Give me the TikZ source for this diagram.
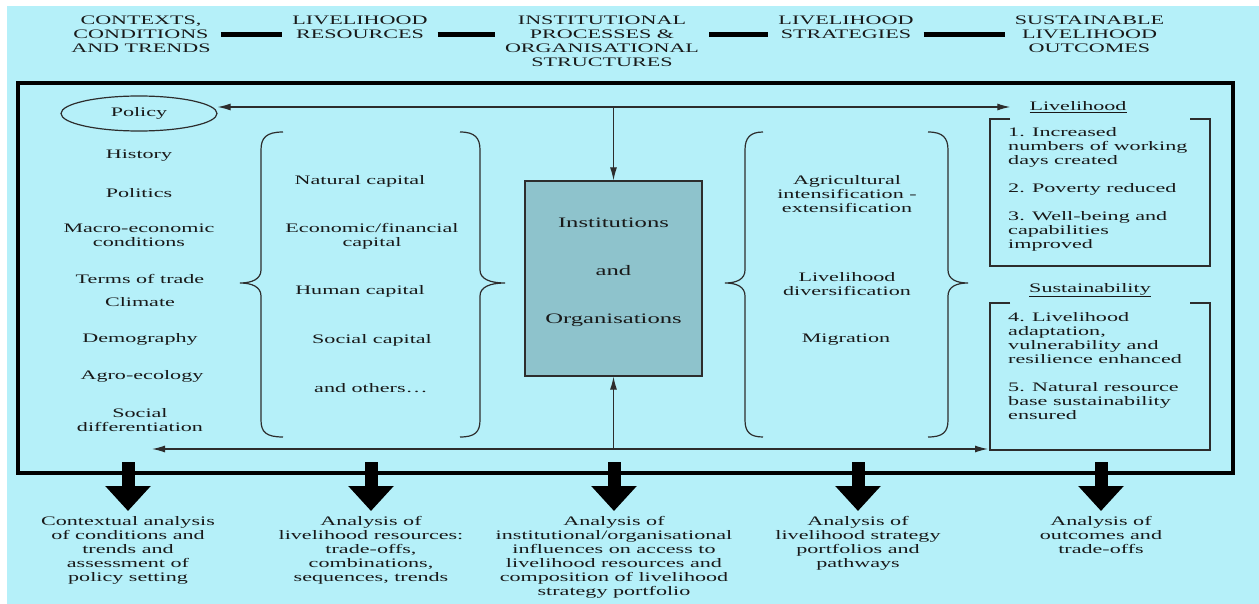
\documentclass[tikz,border=0pt]{standalone}
\usepackage{fontspec}
\setmainfont{Liberation Serif}[FakeStretch=1.7]
\usetikzlibrary{arrows.meta,shapes.geometric}

\definecolor{bgcyan}{RGB}{181,240,249}
\definecolor{boxteal}{RGB}{142,195,204}
\definecolor{inkgray}{RGB}{45,45,45}

\tikzset{
  txt/.style={font=\fontsize{13}{14}\selectfont, inner sep=0pt, align=center, text=black!90},
  thin/.style={line width=1.2pt, draw=inkgray},
  hbar/.style={line width=4.5pt, shorten >=10pt, shorten <=10pt},
  bigarrow/.style={line width=13pt, -{Triangle[length=25pt,width=44pt]}},
  instbox/.style={rectangle, draw=inkgray, line width=1.2pt, fill=boxteal, minimum width=177pt, minimum height=195pt},
}

\begin{document}
\begin{tikzpicture}[x=1pt,y=-1pt,>={Latex[length=13pt,width=7pt]}]
        \useasboundingbox (0,0) rectangle (1259,604);
        \fill[bgcyan] (7,6) rectangle (1259,604);

        \node[txt] (h1) at (141,34.5) {CONTEXTS,\\CONDITIONS\\AND TRENDS};
        \node[txt] (h2) at (360,27.5) {LIVELIHOOD\\RESOURCES};
        \node[txt] (h3) at (602,41.5) {INSTITUTIONAL\\PROCESSES \&\\ORGANISATIONAL\\STRUCTURES};
        \node[txt] (h4) at (846,27.5) {LIVELIHOOD\\STRATEGIES};
        \node[txt] (h5) at (1089.5,34.5) {SUSTAINABLE\\LIVELIHOOD\\OUTCOMES};

        \draw[hbar] (h1.east) -- (h1.east -| h2.west);
        \draw[hbar] (h1.east -| h2.east) -- (h1.east -| h3.west);
        \draw[hbar] (h1.east -| h3.east) -- (h1.east -| h4.west);
        \draw[hbar] (h5.west -| h4.east) -- (h5.west);

        \draw[line width=4pt] (18,83) rectangle (1233,473);

        \node[txt, ellipse, thin, minimum width=156pt, minimum height=35pt] (policy) at (139,113.5) {Policy};
        \node[txt] (ctx1) at (139,156) {History};
        \node[txt] (ctx2) at (139,193) {Politics};
        \node[txt] (ctx3) at (139,235.5) {Macro-economic\\conditions};
        \node[txt] (ctx4) at (140,279) {Terms of trade};
        \node[txt] (ctx5) at (140,302) {Climate};
        \node[txt] (ctx6) at (140,339) {Demography};
        \node[txt] (ctx7) at (142,376) {Agro-ecology};
        \node[txt] (ctx8) at (140,420) {Social\\differentiation};

        \draw[thin] (283,132) .. controls (266,132) and (261,138) .. (261,150) -- (261,270)
            .. controls (261,279) and (252,283) .. (240,283) .. controls (252,283) and (261,287) .. (261,296)
            -- (261,420) .. controls (261,432) and (266,437) .. (283,437);
        \draw[thin] (460,132) .. controls (475,132) and (480,138) .. (480,150) -- (480,270)
            .. controls (480,279) and (490,283) .. (505,283) .. controls (490,283) and (480,287) .. (480,296)
            -- (480,420) .. controls (480,432) and (475,437) .. (460,437);

        \node[txt] (res1) at (360,181) {Natural capital};
        \node[txt] (res2) at (372,236) {Economic/financial\\capital};
        \node[txt] (res3) at (360,291) {Human capital};
        \node[txt] (res4) at (372,340) {Social capital};
        \node[txt] (res5) at (371,388) {and others…};

        \node[instbox] (inst) at (613.5,278.5) {};
        \node[txt, font=\fontsize{14.5}{16}\selectfont] (insttxt) at (613.5,272) {Institutions\\[32pt]and\\[32pt]Organisations};

        \draw[thin] (763,132) .. controls (750,132) and (745,138) .. (745,150) -- (745,270)
            .. controls (745,279) and (737,283) .. (725,283) .. controls (737,283) and (745,287) .. (745,296)
            -- (745,420) .. controls (745,432) and (750,437) .. (763,437);
        \draw[thin] (928,132) .. controls (943,132) and (948,138) .. (948,150) -- (948,270)
            .. controls (948,279) and (956,283) .. (968,283) .. controls (956,283) and (948,287) .. (948,296)
            -- (948,420) .. controls (948,432) and (943,437) .. (928,437);

        \node[txt] (str1) at (847,194) {Agricultural\\intensification -\\extensification};
        \node[txt] (str2) at (847,284.5) {Livelihood\\diversification};
        \node[txt] (str3) at (846,340) {Migration};

        \node[txt] (livtitle) at (1078,107) {\underline{Livelihood}};
        \draw[thin] (1010,119) -- (990,119) -- (990,266) -- (1210,266) -- (1210,119) -- (1190,119);
        \node[txt, align=left, anchor=west] (out1) at (1008,189) {1. Increased\\numbers of working\\days created\\[14pt]2. Poverty reduced\\[14pt]3. Well-being and\\capabilities\\improved};

        \node[txt] (sustitle) at (1090,290) {\underline{Sustainability}};
        \draw[thin] (1010,303) -- (990,303) -- (990,450) -- (1210,450) -- (1210,303) -- (1190,303);
        \node[txt, align=left, anchor=west] (out2) at (1008,366) {4. Livelihood\\adaptation,\\vulnerability and\\resilience enhanced\\[14pt]5. Natural resource\\base sustainability\\ensured};

        \coordinate (botl) at (152,449);
        \coordinate (botr) at (988,449);
        \draw[thin,<->] (policy.east |- livtitle.west) -- ([xshift=-19pt]livtitle.west);
        \draw[thin,->] (inst.north |- livtitle.west) -- (inst.north);
        \draw[thin,<->] (botl) -- (botr);
        \draw[thin,->] (inst.south |- botl) -- (inst.south);

        \node[txt, anchor=north] (an1) at (128,516) {Contextual analysis\\of conditions and\\trends and\\assessment of\\policy setting};
        \node[txt, anchor=north] (an2) at (371,516) {Analysis of\\livelihood resources:\\trade-offs,\\combinations,\\sequences, trends};
        \node[txt, anchor=north] (an3) at (614,516) {Analysis of\\institutional/organisational\\influences on access to\\livelihood resources and\\composition of livelihood\\strategy portfolio};
        \node[txt, anchor=north] (an4) at (858,516) {Analysis of\\livelihood strategy\\portfolios and\\pathways};
        \node[txt, anchor=north] (an5) at (1101,516) {Analysis of\\outcomes and\\trade-offs};

        \coordinate (ar1) at (128,462);
        \coordinate (ar2) at (371,462);
        \coordinate (ar3) at (614,462);
        \coordinate (ar4) at (858,462);
        \coordinate (ar5) at (1101,462);
        \draw[bigarrow] (ar1) -- ([yshift=5pt]an1.north);
        \draw[bigarrow] (ar2) -- ([yshift=5pt]an2.north);
        \draw[bigarrow] (ar3) -- ([yshift=5pt]an3.north);
        \draw[bigarrow] (ar4) -- ([yshift=5pt]an4.north);
        \draw[bigarrow] (ar5) -- ([yshift=5pt]an5.north);
\end{tikzpicture}
\end{document}
